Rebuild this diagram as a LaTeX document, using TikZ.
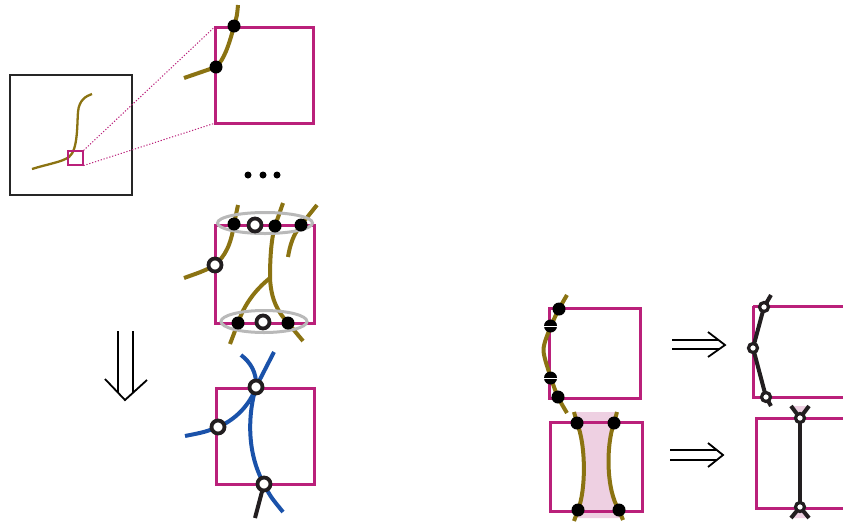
\documentclass[tikz,border=0pt]{standalone}
\definecolor{mag}{RGB}{186,32,122}
\definecolor{oli}{RGB}{139,115,18}
\definecolor{blu}{RGB}{26,82,170}
\definecolor{drk}{RGB}{34,30,32}
\definecolor{gry}{RGB}{185,185,185}
\definecolor{pnk}{RGB}{238,208,226}
\tikzset{
  sq/.style={draw=mag, line width=3pt},
  ostrand/.style={draw=oli, line width=4pt},
  bstrand/.style={draw=blu, line width=4pt},
  kstrand/.style={draw=drk, line width=4pt},
  ring/.style={draw=gry, line width=3pt},
  bdot/.style={circle, fill=black, minimum size=13pt, inner sep=0pt},
  odot/.style={circle, fill=white, draw=drk, line width=3.8pt, minimum size=13pt, inner sep=0pt},
  sodot/.style={circle, fill=white, draw=drk, line width=3.2pt, minimum size=9pt, inner sep=0pt},
  edot/.style={circle, fill=black, minimum size=7pt, inner sep=0pt},
  implies/.style={draw=black, line width=1.8pt},
  zoomline/.style={draw=mag, line width=1pt, dash pattern=on 1.2pt off 1.8pt},
}
\begin{document}
\begin{tikzpicture}[x=1pt,y=-1pt]
\path[use as bounding box] (0,0) rectangle (843,523);

% ---------- small overview frame ----------
\draw[line width=1.1pt, draw=black!85] (10,75) rectangle (132,195);
\draw[draw=oli, line width=2.3pt] (32,169) .. controls (48,164) and (62,162) .. (69,157)
   .. controls (78,150) and (77,125) .. (78,112) .. controls (79,100) and (86,96) .. (92,94);
\node[draw=mag, line width=1.1pt, minimum width=15pt, minimum height=14pt, inner sep=0pt] (zs) at (75.5,158) {};
\node[minimum width=98pt, minimum height=96pt, inner sep=0pt] (zb) at (264,75) {};
\draw[zoomline] (zs.north east) -- (zb.north west);
\draw[zoomline] (zs.south east) -- (zb.south west);

% ---------- top square ----------
\draw[sq] (215,27) rectangle (313,123);
\coordinate (t0) at (238,5);
\coordinate (t3) at (184,78);
\draw[ostrand] (t0) .. controls (237,16) .. (234,26)
   .. controls (229,45) and (224,60) .. (216,67) -- (t3);
\node[bdot] (t1) at (234,26) {};
\node[bdot] (t2) at (216,67) {};

% ellipsis
\node[edot] (e1) at (248,175) {};
\node[edot] (e2) at (263,175) {};
\node[edot] (e3) at (277,175) {};

% ---------- middle square ----------
\draw[sq] (215,225) rectangle (314,323);
% strand A
\draw[ostrand] (238,205) -- (234,224) .. controls (231,245) and (225,256) .. (215,265)
   .. controls (205,271) and (195,274) .. (184,278);
% strand B (trunk + right branch)
\draw[ostrand] (283,203) -- (275,226) .. controls (271,240) and (270,260) .. (270,278)
   .. controls (271,300) and (278,312) .. (288,323) -- (303,341);
% strand B left branch
\draw[ostrand] (270,278) .. controls (255,290) and (244,305) .. (238,323) -- (230,344);
% strand C
\draw[ostrand] (317,205) -- (301,225) .. controls (293,235) and (290,245) .. (288,257);
% gray rings
\draw[ring] (265,223) ellipse [x radius=47.5, y radius=10.5];
\draw[ring] (264,321.5) ellipse [x radius=43, y radius=11];
% dots
\node[bdot] (m1) at (234,224) {};
\node[odot] (m2) at (255,225) {};
\node[bdot] (m3) at (275,226) {};
\node[bdot] (m4) at (301,225) {};
\node[odot] (m5) at (215,265) {};
\node[bdot] (m6) at (238,323) {};
\node[odot] (m7) at (263,322) {};
\node[bdot] (m8) at (288,323) {};

% ---------- down double arrow ----------
\draw[implies] (118,331) -- (118,393);
\draw[implies] (133,331) -- (133,393);
\draw[implies] (105,379) -- (125,400) -- (147,380);

% ---------- bottom square (blue) ----------
\draw[sq] (216,388) rectangle (314,484);
\coordinate (bo1) at (255,518);
\draw[kstrand] (264,484) -- (bo1);
\draw[bstrand] (241,355) .. controls (250,362) and (257,372) .. (256,387)
   .. controls (249,410) and (245,450) .. (264,484) .. controls (270,496) .. (283,512);
\draw[bstrand] (274,352) -- (256,387) .. controls (250,405) and (235,420) .. (218,427)
   .. controls (205,432) .. (185,436);
\node[odot] (b1) at (256,387) {};
\node[odot] (b2) at (218,427) {};
\node[odot] (b3) at (264,484) {};

% ---------- right: top-left square ----------
\draw[sq] (549,308) rectangle (640,398);
\draw[ostrand] plot[smooth] coordinates {(567,295) (559,309) (551,326) (543.5,350) (551,378) (558,397) (567,413)};
\node[bdot] (r1) at (559,309) {};
\node[bdot] (r2) at (550.5,326) {};
\node[bdot] (r3) at (550.5,378) {};
\node[bdot] (r4) at (558,397) {};
\draw[white, line width=0.5pt] (r2.west) -- (r2.east);
\draw[white, line width=0.5pt] (r3.west) -- (r3.east);

% ---------- right: bottom-left square ----------
\fill[pnk] (576,412) -- (617,412) -- (614,423) .. controls (606,445) and (606,490) .. (619,510)
   -- (621,518) -- (577,518) -- (578,510) .. controls (586,490) and (586,445) .. (577,423) -- cycle;
\draw[sq] (550,422) rectangle (642,511);
\draw[ostrand] (574,412) -- (577,423) .. controls (586,445) and (586,490) .. (578,510) -- (574,521);
\draw[ostrand] (617,412) -- (614,423) .. controls (606,445) and (606,490) .. (619,510) -- (623,520);
\node[bdot] (s1) at (577,423) {};
\node[bdot] (s2) at (614,423) {};
\node[bdot] (s3) at (578,510) {};
\node[bdot] (s4) at (619,510) {};

% ---------- implies arrows ----------
\draw[implies] (672,340) -- (719,340);
\draw[implies] (672,349) -- (719,349);
\draw[implies] (708,332) -- (725,345) -- (708,357);
\draw[implies] (670,450) -- (717,450);
\draw[implies] (670,460) -- (717,460);
\draw[implies] (708,443) -- (723,455) -- (708,467);

% ---------- right: top-right square ----------
\draw[sq] (753,306) -- (860,306) (753,306) -- (753,397) -- (860,397);
\coordinate (k0) at (771,295);
\coordinate (k4) at (771,406);
\draw[kstrand] (k0) -- (764,307) -- (753,348) -- (766,397) -- (k4);
\node[sodot] (k1) at (764,307) {};
\node[sodot] (k2) at (753,348) {};
\node[sodot] (k3) at (766,397) {};

% ---------- right: bottom-right square ----------
\fill[pnk] (791,406) -- (809,406) -- (800,418) -- cycle;
\fill[pnk] (791,518) -- (809,518) -- (800,507) -- cycle;
\draw[sq] (860,418) -- (756,418) -- (756,508) -- (860,508);
\coordinate (x1) at (791,406);
\coordinate (x2) at (809,406);
\coordinate (x3) at (791,518);
\coordinate (x4) at (809,518);
\draw[kstrand] (x1) -- (800,418) -- (x2);
\draw[kstrand] (800,418) -- (800,507);
\draw[kstrand] (x3) -- (800,507) -- (x4);
\node[sodot] (v1) at (800,418) {};
\node[sodot] (v2) at (800,507) {};
\end{tikzpicture}
\end{document}
